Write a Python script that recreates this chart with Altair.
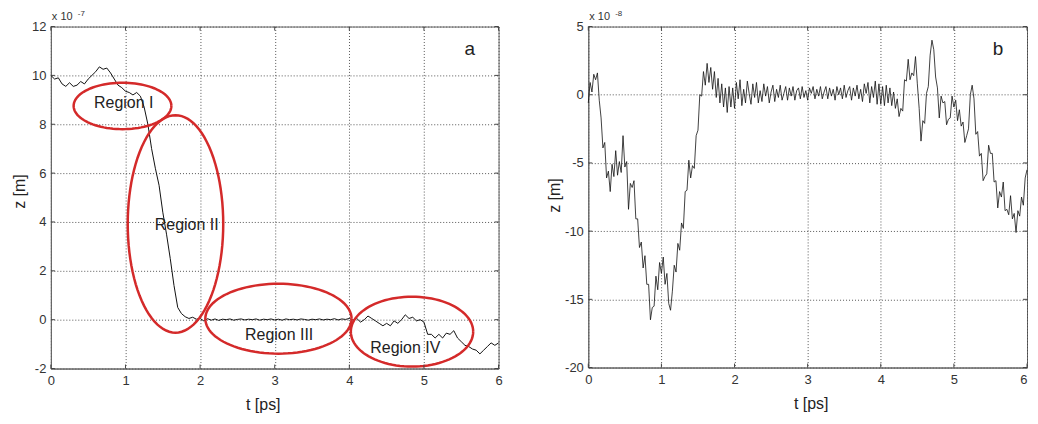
import altair as alt
import numpy as np
import pandas as pd

# ---------------- data ----------------
# Panel a: z in units of 1e-7 m, sampled every 0.05 ps from t = 0
A_STEP = 0.05
A_Z = [
    10.0, 9.85, 9.9, 9.65, 9.55, 9.7, 9.55, 9.6, 9.75, 9.65,
    9.85, 10.0, 10.15, 10.35, 10.25, 10.3, 10.1, 9.85, 9.6, 9.5,
    9.35, 9.3, 9.2, 9.3, 9.15, 8.7, 8.0, 7.0, 6.2, 5.5,
    4.4, 3.5, 2.5, 1.4, 0.5, 0.25, 0.12, 0.05, 0.1, 0.02,
    0.05,
    -0.05, 0.04, -0.02, 0.03, -0.03, 0.02, 0.0, 0.03, -0.02, 0.01,
    0.03, -0.01, 0.02, 0.0, 0.03, -0.02, 0.02, 0.0, 0.03, -0.01,
    0.02, -0.02, 0.03, 0.0, 0.02, -0.01, 0.03, 0.01, -0.02, 0.02,
    0.0, 0.03, -0.01, 0.02, 0.0, 0.04, -0.01, 0.03, 0.01,
    0.05, -0.02, 0.05, -0.1, 0.0, 0.15, 0.05, -0.05, -0.15, -0.25,
    -0.15, -0.25, -0.05, -0.15, 0.0, 0.2, 0.05, 0.1, -0.05, 0.0,
    -0.1, -0.6, -0.6, -0.75, -0.6, -0.75, -0.55, -0.6, -0.45, -0.75,
    -0.9, -1.05, -1.1, -1.2, -1.25, -1.4, -1.25, -1.1, -0.95, -1.05,
    -0.95,
]

# Panel b: z in units of 1e-8 m, sampled every 0.025 ps from t = 0
B_STEP = 0.025
B_Z = [
    -0.6, 0.9, 0.2, 1.5, 1.1, 1.6, -0.4, -1.7, -3.9, -3.5,
    -6.1, -5.6, -7.1, -5.1, -6.0, -4.1, -5.9, -4.9, -5.7, -3.0,
    -5.3, -4.9, -8.4, -6.5, -6.8, -6.3, -9.1, -9.1, -11.2, -10.8,
    -12.7, -11.8, -13.9, -13.9, -16.5, -15.6, -15.5, -13.3, -14.3, -12.3,
    -13.1, -11.9, -13.9, -13.1, -15.3, -15.8, -14.4, -12.5, -13.0, -10.9,
    -11.4, -9.4, -9.8, -7.1, -7.0, -4.8, -6.1, -5.2, -5.4, -3.0,
    -2.6, 0.0, -0.1, 1.7, 0.7, 2.3, 0.9, 2.0, 0.4, 1.7,
    -0.2, 1.2, -0.6, 0.8, -0.9, 0.5, -1.3, 0.6, -0.9, 0.5,
    -1.0, 0.9, -0.3, 1.1, -0.8, 0.4, -0.6, 1.0, 0.1, -0.7,
    0.8, -0.2, 0.9, -0.6, 0.3, -0.5, 0.8, -0.1, 0.6, -0.6,
    0.2, 0.7, -0.5, 0.4, -0.2, 0.7, -0.4, 0.1, 0.6, -0.4,
    0.5, -0.1, 0.6, -0.4, 0.3, 0.5, -0.3, 0.6, -0.2, 0.3,
    -0.4, 0.5, 0.1, 0.6, -0.3, 0.4, -0.1, 0.6, -0.3, 0.2,
    0.6, -0.3, 0.5, -0.1, 0.4, -0.4, 0.6, 0.0, 0.5, -0.3,
    0.7, -0.2, 0.3, 0.6, -0.4, 0.5, -0.1, 0.7, -0.3, 0.4,
    -0.5, 0.8, 0.1, 0.9, -0.6, 0.6, -0.2, 1.0, -0.7, 0.8,
    -0.7, 0.6, -0.8, 0.7, -0.6, 0.5, -0.8, 0.2, -1.0, -0.3,
    -1.6, -1.0, -1.2, 1.1, 1.0, 2.6, 1.1, 1.6, 1.4, 2.8,
    0.8, -1.0, -3.4, -1.9, -2.1, 0.1, 0.6, 2.9, 4.0, 3.3,
    1.3, 0.5, -1.7, -0.1, -0.6, -0.5, -2.2, -1.8, -1.7, -0.1,
    -0.9, -0.4, -1.9, -1.1, -2.3, -2.0, -3.5, -3.0, -2.5, 0.0,
    0.7, -0.3, -2.9, -2.7, -4.5, -4.3, -6.3, -6.0, -5.8, -3.7,
    -4.3, -4.3, -6.4, -6.3, -8.3, -7.1, -7.5, -6.4, -8.5, -8.4,
    -8.8, -7.4, -9.1, -8.7, -10.1, -8.5, -8.9, -7.5, -8.1, -6.1,
    -5.5,
]

X_TICKS = [0, 1, 2, 3, 4, 5, 6]
A_YTICKS = [-2, 0, 2, 4, 6, 8, 10, 12]
B_YTICKS = [-20, -15, -10, -5, 0, 5]

# Region annotations of panel a (ellipse centre, half-axes, label position)
REGION_NAMES = ["Region I", "Region II", "Region III", "Region IV"]
REGION_T = [0.96, 1.67, 3.05, 4.84]
REGION_Z = [8.75, 3.92, 0.04, -0.49]
REGION_RT = [0.655, 0.64, 0.98, 0.82]
REGION_RZ = [0.95, 4.45, 1.43, 1.43]
LABEL_T = [0.977, 1.82, 3.06, 4.75]
LABEL_Z = [8.88, 3.88, -0.61, -1.18]

# ---------------- tables ----------------
dfA = pd.DataFrame({"t": [round(i * A_STEP, 4) for i in range(len(A_Z))], "z": A_Z})
dfB = pd.DataFrame({"t": [round(i * B_STEP, 4) for i in range(len(B_Z))], "z": B_Z})

rows = []
ang = np.linspace(0, 2 * np.pi, 97)
for name, tc, zc, rt, rz in zip(REGION_NAMES, REGION_T, REGION_Z, REGION_RT, REGION_RZ):
    for k, a in enumerate(ang):
        rows.append({"region": name, "k": k, "t": tc + rt * np.cos(a), "z": zc + rz * np.sin(a)})
dfE = pd.DataFrame(rows)
dfL = pd.DataFrame({"t": LABEL_T, "z": LABEL_Z, "label": REGION_NAMES})

FONT = "Liberation Sans"
W1, W2, H1, H2 = 449, 440, 343, 342
TICK = 4
XTITLE_Y = 41


def panel(df, W, H, ydom, yticks, xtitle_x, ytitle_x, ytitle_y, exp_txt, letter, extra=None, last_right=False):
    label_align = {"condition": {"test": "datum.value == 6", "value": "right"}, "value": "center"} \
        if last_right else "center"
    X = alt.X("t:Q", scale=alt.Scale(domain=[0, 6], nice=False, zero=False),
              axis=alt.Axis(values=X_TICKS, labelExpr="'' + datum.value", title="t [ps]",
                            titleX=xtitle_x, titleY=XTITLE_Y, titleAlign="center",
                            titleBaseline="alphabetic", labelPadding=6, labelAlign=label_align))
    Y = alt.Y("z:Q", scale=alt.Scale(domain=ydom, nice=False, zero=False),
              axis=alt.Axis(values=yticks, labelExpr="'' + datum.value", title="z [m]",
                            titleX=ytitle_x, titleY=ytitle_y, titleAngle=270, titleAlign="center",
                            titleBaseline="bottom", labelPadding=5))
    layers = []
    layers.append(alt.Chart(df).mark_line(color="#111111", strokeWidth=1 if letter == "a" else 0.8)
                  .encode(x=X, y=Y))
    if extra is not None:
        layers.extend(extra(X, Y))
    dxt = pd.DataFrame({"t": X_TICKS})
    dyt = pd.DataFrame({"z": yticks})
    layers.append(alt.Chart(dxt).mark_rule(color="#444444", strokeWidth=1)
                  .encode(x=X, y=alt.value(H), y2=alt.value(H - TICK)))
    layers.append(alt.Chart(dxt).mark_rule(color="#444444", strokeWidth=1)
                  .encode(x=X, y=alt.value(0), y2=alt.value(TICK)))
    layers.append(alt.Chart(dyt).mark_rule(color="#444444", strokeWidth=1)
                  .encode(y=Y, x=alt.value(0), x2=alt.value(TICK)))
    layers.append(alt.Chart(dyt).mark_rule(color="#444444", strokeWidth=1)
                  .encode(y=Y, x=alt.value(W), x2=alt.value(W - TICK)))
    layers.append(alt.Chart(pd.DataFrame({"s": ["x 10"]}))
                  .mark_text(font=FONT, fontSize=11, color="#333333", align="left", baseline="alphabetic")
                  .encode(x=alt.value(1), y=alt.value(-6.5), text="s:N"))
    layers.append(alt.Chart(pd.DataFrame({"s": [exp_txt]}))
                  .mark_text(font=FONT, fontSize=8, color="#333333", align="left", baseline="top")
                  .encode(x=alt.value(27), y=alt.value(-17), text="s:N"))
    layers.append(alt.Chart(pd.DataFrame({"s": [letter]}))
                  .mark_text(font=FONT, fontSize=19, color="#222222", align="center", baseline="middle")
                  .encode(x=alt.value(W - 29), y=alt.value(23), text="s:N"))
    return alt.layer(*layers).properties(width=W, height=H)


def regions(X, Y):
    ell = (alt.Chart(dfE).mark_line(color="#d42a2a", strokeWidth=2.5)
           .encode(x=X, y=Y, detail="region:N", order="k:Q"))
    lab = (alt.Chart(dfL).mark_text(font=FONT, fontSize=16, color="#222222", align="center", baseline="middle")
           .encode(x=X, y=Y, text="label:N"))
    return [ell, lab]


left = panel(dfA, W1, H1, [-2, 12], A_YTICKS, 212.5, -23, 165, "-7", "a", extra=regions)
right = panel(dfB, W2, H2, [-20, 5], B_YTICKS, 223, -26, 169, "-8", "b", last_right=True)

chart = (
    alt.hconcat(left, right, spacing=90, bounds="flush")
    .properties(padding={"left": 3, "top": 0, "right": 0, "bottom": 0}, background="white")
    .configure_view(stroke="#666666", strokeWidth=1)
    .configure_axis(
        labelFont=FONT, labelFontSize=13, labelColor="#333333",
        titleFont=FONT, titleFontSize=16, titleFontWeight="normal", titleColor="#222222",
        domainColor="#666666", domainWidth=1,
        grid=True, gridColor="#444444", gridDash=[1, 2], gridWidth=1, gridOpacity=0.9,
        ticks=False, labelFlush=False, labelOverlap=False,
    )
)

chart.save("out.html", embed_options={"renderer": "svg", "actions": False})
